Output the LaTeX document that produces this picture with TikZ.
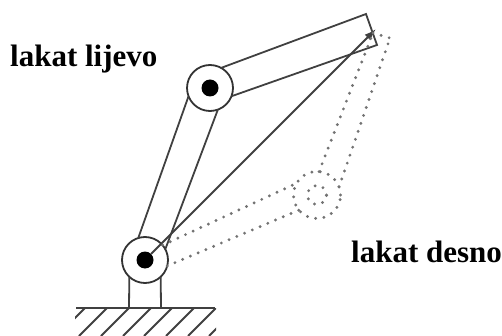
\documentclass[tikz,border=0pt]{standalone}
\usepackage{fontspec}
\setmainfont{Liberation Serif}
\usepackage{xcolor}
\usetikzlibrary{arrows.meta}
\tikzset{
  joint/.style={draw=black!80,circle,line width=1.8pt,inner sep=0pt,outer sep=0pt,minimum size=46pt},
  hub/.style={fill=black,circle,inner sep=0pt,outer sep=0pt,minimum size=17pt},
  ghost/.style={black!55,line width=3.2pt,line cap=round,dash pattern=on 0pt off 8.4pt},
  armline/.style={black!75,line width=1.8pt},
  caption/.style={font=\bfseries\fontsize{31}{34}\selectfont,text=black,inner sep=0pt}
}
\begin{document}
\begin{tikzpicture}[x=1pt,y=-1pt]
\useasboundingbox (0,0) rectangle (502,336);
%% joints
   \node [joint] (base) at (145,260) {};
   \node [hub] (basedot) at (145,260) {};
   \node [joint] (elbow) at (210,88) {};
   \node [hub] (elbowdot) at (210,88) {};
   \node [circle,ghost,draw,inner sep=0pt,outer sep=0pt,minimum size=47pt] (altelbow) at (317,195) {};
   \node [circle,ghost,draw,inner sep=0pt,outer sep=0pt,minimum size=19pt] (altelbowdot) at (317,195) {};
   \coordinate (cornera) at (366,14);
   \coordinate (cornerb) at (377,45);
   \coordinate (tip) at (376,29);
   \coordinate (altcornera) at (373,33);
   \coordinate (altcornerb) at (390,38);
   \coordinate (footl) at (129,308);
   \coordinate (footr) at (161,308);
   \coordinate (groundl) at (76,308);
   \coordinate (groundr) at (215,308);
%% arms
   \draw [armline] (base.107) -- (elbow.201);
   \draw [armline] (base.28) -- (elbow.-70);
   \draw [armline] (elbow.61) -- (cornera) -- (cornerb) -- (elbow.-21);
   \draw [armline,-{Latex[length=12pt,width=8pt]}] (basedot) -- (tip);
%% other elbow position
   \draw [ghost] (base.40) -- (altelbow.150);
   \draw [ghost] (base.-15) -- (altelbow.220);
   \draw [ghost] (altelbow.85) -- (altcornera);
   \draw [ghost] (altelbow.20) -- (altcornerb);
   \draw [ghost] (altcornera) -- (altcornerb);
%% stand and ground
   \draw [armline] (base.-133) -- (footl);
   \draw [armline] (base.-47) -- (footr);
   \draw [armline] (groundl) -- (groundr);
\begin{scope}
   \clip (75,308) rectangle (216,336);
   \foreach \x in {85,107,129,151,172,194,216,237}
      \draw [armline] (\x,308) -- (\x-28,336);
\end{scope}
%% labels
   \node [caption,anchor=base west] (leftlabel) at (10,67) {lakat lijevo};
   \node [caption,anchor=base west] (rightlabel) at (351,262) {lakat desno};
\end{tikzpicture}
\end{document}
